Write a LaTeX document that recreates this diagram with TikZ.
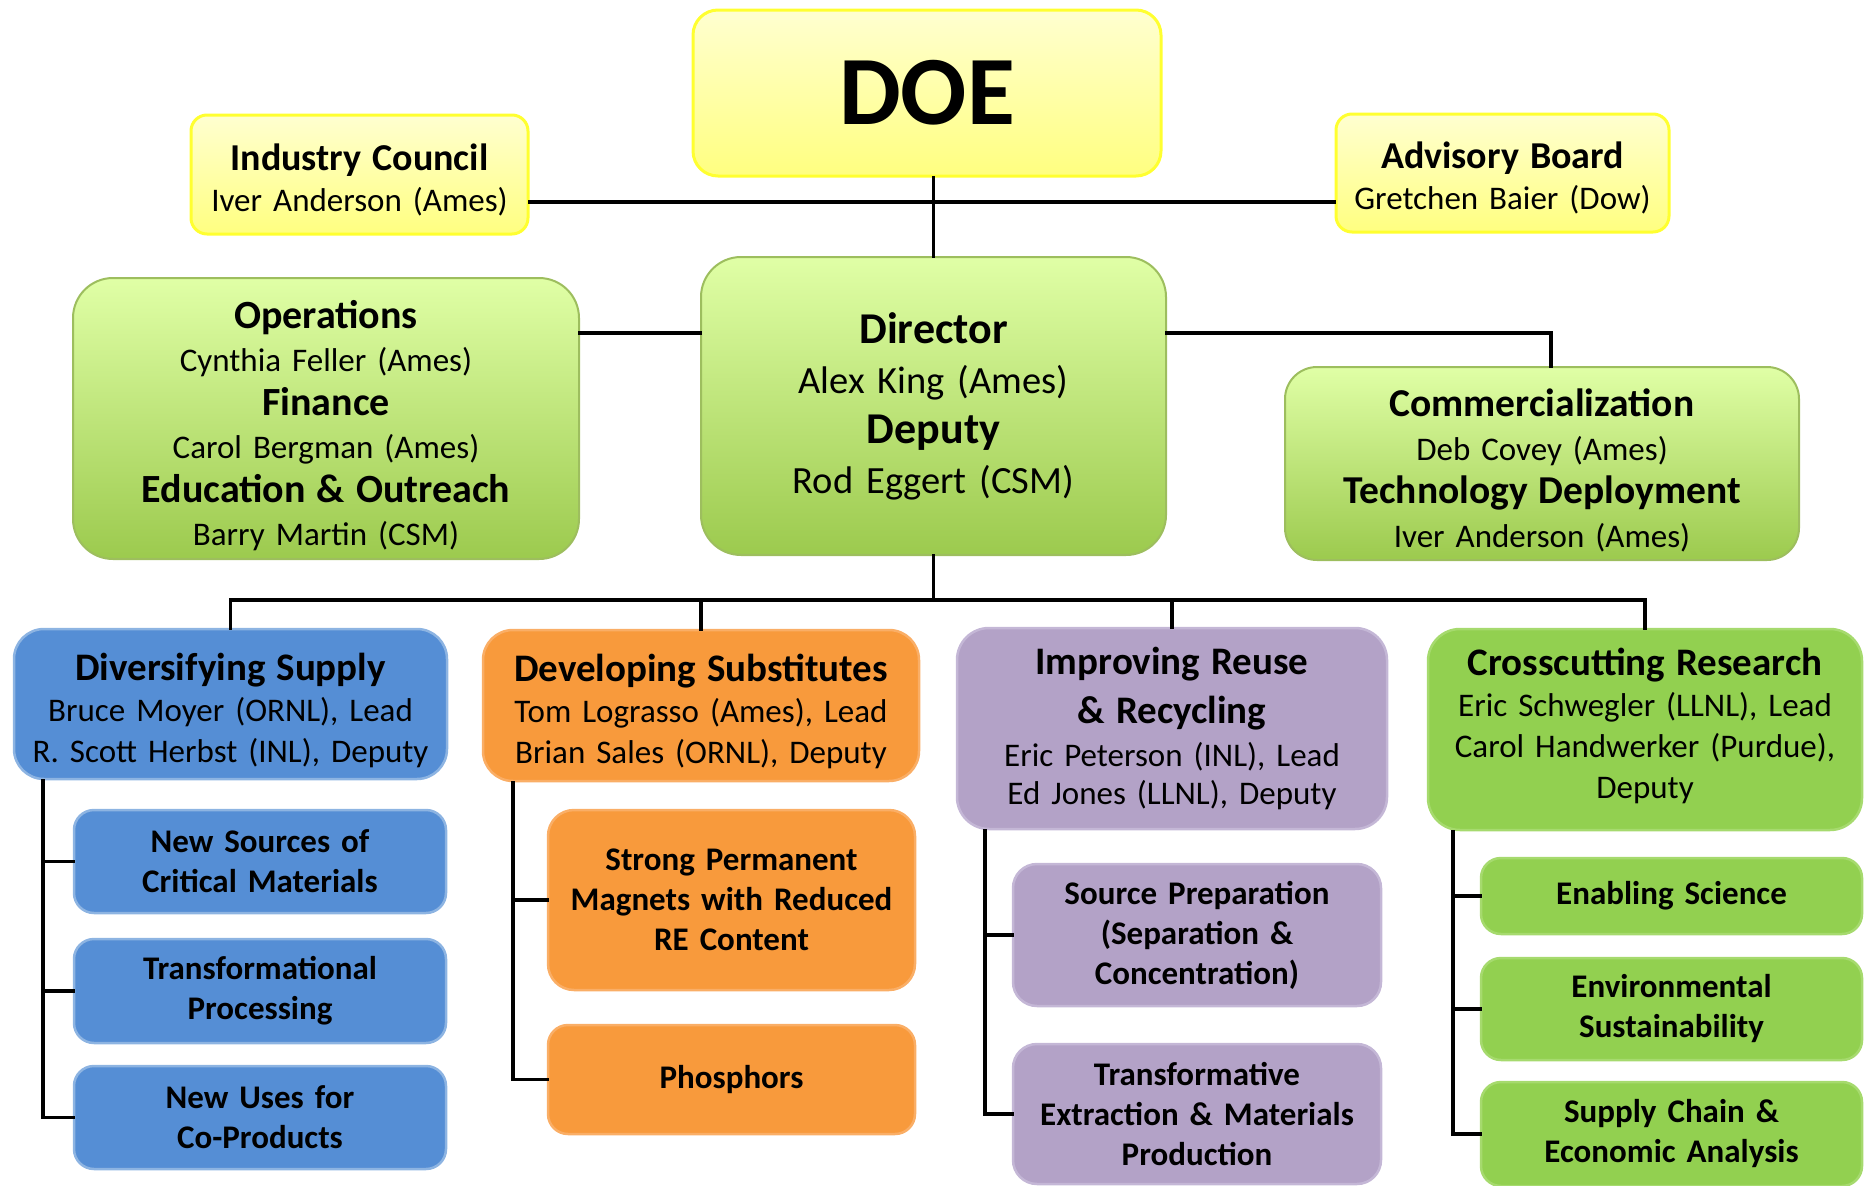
\documentclass[tikz,border=0pt]{standalone}
\usepackage{fontspec}
\setmainfont{Carlito}
\definecolor{yelB}{HTML}{FFFF30}
\definecolor{yelT}{HTML}{FFFFD0}
\definecolor{yelD}{HTML}{FFFF80}
\definecolor{grnT}{HTML}{E0FFA6}
\definecolor{grnD}{HTML}{9CCA4E}
\definecolor{grnB}{HTML}{9DBE5E}
\definecolor{bluF}{HTML}{558ED5}
\definecolor{bluB}{HTML}{8DB4E2}
\definecolor{orgF}{HTML}{F89A3C}
\definecolor{orgB}{HTML}{FAAE66}
\definecolor{purF}{HTML}{B3A2C7}
\definecolor{purB}{HTML}{C4B7D6}
\definecolor{gr2F}{HTML}{92D050}
\definecolor{gr2B}{HTML}{A6DA6E}
\newcommand\ttl[1]{{\bfseries\fontsize{39}{41}\selectfont #1}}
\begin{document}
\begin{tikzpicture}[x=1pt,y=-1pt,
  conn/.style={line width=3.5pt, black, line cap=rect},
  base/.style={rectangle, align=center, inner sep=0pt, line width=2.5pt,
     font=\fontsize{33}{41}\selectfont},
  yel/.style={base, draw=yelB, top color=yelT, bottom color=yelD, line width=3pt},
  upg/.style={base, draw=grnB, top color=grnT, bottom color=grnD, line width=2pt},
  blu/.style={base, draw=bluB, fill=bluF},
  org/.style={base, draw=orgB, fill=orgF},
  pur/.style={base, draw=purB, fill=purF},
  gr2/.style={base, draw=gr2B, fill=gr2F},
  sub/.style={font=\bfseries\fontsize{33}{40}\selectfont, rounded corners=20pt}]
\useasboundingbox (0,0) rectangle (1864,1186);

% top level
\node[yel, rounded corners=25pt, text width=468pt, minimum height=166pt] (doe) at (927,93)
  {\bfseries\fontsize{98}{100}\selectfont DOE};
\node[yel, rounded corners=16pt, minimum width=337pt, minimum height=119pt] (ind) at (359.5,174.5) {};
\node[base, text width=337pt] (indt) at ([yshift=-5pt]ind.center)
  {{\bfseries\fontsize{38}{43}\selectfont Industry Council}\\Iver Anderson (Ames)};
\node[yel, rounded corners=16pt, minimum width=333pt, minimum height=118pt] (adv) at (1502.5,173) {};
\node[base, text width=333pt] (advt) at ([yshift=-5pt]adv.center)
  {{\bfseries\fontsize{38}{43}\selectfont Advisory Board}\\Gretchen Baier (Dow)};

% second level
\node[upg, rounded corners=40pt, minimum width=506pt, minimum height=281pt] (ops) at (326,418.5) {};
\node[base, text width=506pt, font=\fontsize{33}{43.5}\selectfont] (opst) at ([yshift=-7pt]ops.center)
  {{\bfseries\fontsize{40}{43.5}\selectfont Operations}\\Cynthia Feller (Ames)\\
   {\bfseries\fontsize{40}{43.5}\selectfont Finance}\\Carol Bergman (Ames)\\
   {\bfseries\fontsize{40}{43.5}\selectfont Education \& Outreach}\\Barry Martin (CSM)};
\node[upg, rounded corners=40pt, text width=465pt, minimum height=298pt,
      font=\fontsize{38.5}{50}\selectfont] (dir) at (933.5,406)
  {{\bfseries\fontsize{44}{50}\selectfont Director}\\Alex King (Ames)\\
   {\bfseries\fontsize{44}{50}\selectfont Deputy}\\Rod Eggert (CSM)};
\node[upg, rounded corners=32pt, minimum width=514pt, minimum height=193pt] (com) at (1542,463.5) {};
\node[base, text width=514pt, font=\fontsize{33}{43.5}\selectfont] (comt) at ([yshift=-7pt]com.center)
  {{\bfseries\fontsize{39.5}{43.5}\selectfont Commercialization}\\Deb Covey (Ames)\\
   {\bfseries\fontsize{39.5}{43.5}\selectfont Technology Deployment}\\Iver Anderson (Ames)};

% thrust areas
\node[blu, rounded corners=30pt, minimum width=433pt, minimum height=150pt] (div) at (230.5,704) {};
\node[base, text width=433pt] (divt) at ([yshift=-6pt]div.center)
  {\ttl{Diversifying Supply}\\Bruce Moyer (ORNL), Lead\\R. Scott Herbst (INL), Deputy};
\node[org, rounded corners=30pt, minimum width=436pt, minimum height=151pt] (dev) at (701,705.5) {};
\node[base, text width=436pt] (devt) at ([yshift=-6pt]dev.center)
  {\ttl{Developing Substitutes}\\Tom Lograsso (Ames), Lead\\Brian Sales (ORNL), Deputy};
\node[pur, rounded corners=32pt, text width=430pt, minimum height=201pt] (imp) at (1172,728.5)
  {\ttl{Improving Reuse}\\[8pt]\ttl{\& Recycling}\\[2pt]Eric Peterson (INL), Lead\\[-3pt]Ed Jones (LLNL), Deputy};
\node[gr2, rounded corners=32pt, minimum width=434pt, minimum height=201pt] (crs) at (1645,729.5) {};
\node[base, text width=434pt] (crst) at ([yshift=4pt]crs.center)
  {\ttl{Crosscutting Research}\\Eric Schwegler (LLNL), Lead\\Carol Handwerker (Purdue),\\Deputy};

% sub boxes
\node[blu, sub, text width=372pt, minimum height=103pt] (ds1) at (260,861.5) {New Sources of\\Critical Materials};
\node[blu, sub, text width=372pt, minimum height=104pt] (ds2) at (260,991) {Transformational\\Processing};
\node[blu, sub, text width=372pt, minimum height=103pt] (ds3) at (260,1117.5) {New Uses for\\Co-Products};

\node[org, sub, rounded corners=26pt, text width=367pt, minimum height=180pt] (dv1) at (731.5,900) {Strong Permanent\\Magnets with Reduced\\RE Content};
\node[org, sub, text width=367pt, minimum height=109pt] (dv2) at (731.5,1079.5) {Phosphors};

\node[pur, sub, rounded corners=24pt, text width=368pt, minimum height=142pt] (im1) at (1197,935) {Source Preparation\\(Separation \&\\Concentration)};
\node[pur, sub, rounded corners=24pt, text width=368pt, minimum height=140pt] (im2) at (1197,1114) {Transformative\\Extraction \& Materials\\Production};

\node[gr2, sub, text width=381pt, minimum height=76pt] (cr1) at (1671.5,896) {Enabling Science};
\node[gr2, sub, text width=381pt, minimum height=102pt] (cr2) at (1671.5,1009) {Environmental\\Sustainability};
\node[gr2, sub, text width=381pt, minimum height=104pt] (cr3) at (1671.5,1134) {Supply Chain \&\\Economic Analysis};

% connectors
\coordinate (hl) at (0,202);
\coordinate (ml) at (0,333);
\coordinate (bus) at (0,600);
\coordinate (cx) at (1551,0);
\draw[conn] (ind.east |- hl) -- (adv.west |- hl);
\draw[conn] (doe.south -| dir.north) -- (dir.north);
\draw[conn] (ops.east |- ml) -- (dir.west |- ml);
\draw[conn] (dir.east |- ml) -- (cx |- ml) -- (cx |- com.north);
\draw[conn] (dir.south) -- (dir.south |- bus);
\draw[conn] (div.north |- bus) -- (crs.north |- bus);
\draw[conn] (div.north |- bus) -- (div.north);
\draw[conn] (dev.north |- bus) -- (dev.north);
\draw[conn] (imp.north |- bus) -- (imp.north);
\draw[conn] (crs.north |- bus) -- (crs.north);

\coordinate (dsx) at ([xshift=30pt]div.south west);
\draw[conn] (dsx) -- (dsx |- ds3.west) -- (ds3.west);
\draw[conn] (dsx |- ds1.west) -- (ds1.west);
\draw[conn] (dsx |- ds2.west) -- (ds2.west);

\coordinate (dvx) at ([xshift=31pt]dev.south west);
\draw[conn] (dvx) -- (dvx |- dv2.west) -- (dv2.west);
\draw[conn] (dvx |- dv1.west) -- (dv1.west);

\coordinate (imx) at ([xshift=29pt]imp.south west);
\draw[conn] (imx) -- (imx |- im2.west) -- (im2.west);
\draw[conn] (imx |- im1.west) -- (im1.west);

\coordinate (crx) at ([xshift=26pt]crs.south west);
\draw[conn] (crx) -- (crx |- cr3.west) -- (cr3.west);
\draw[conn] (crx |- cr1.west) -- (cr1.west);
\draw[conn] (crx |- cr2.west) -- (cr2.west);
\end{tikzpicture}
\end{document}
